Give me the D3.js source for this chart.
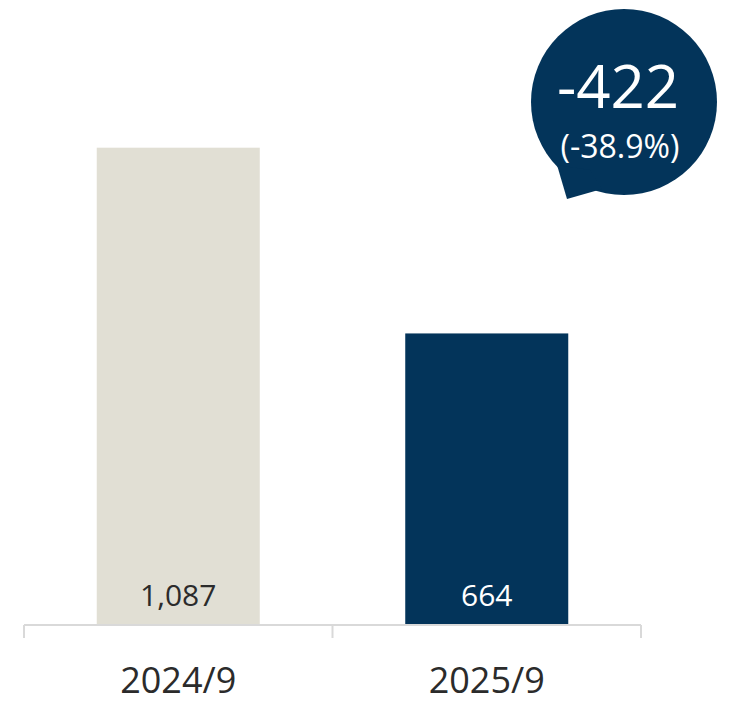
<!DOCTYPE html>
<html>
<head>
<meta charset="utf-8">
<script src="https://cdn.jsdelivr.net/npm/d3@7"></script>
<style>
  html, body { margin: 0; padding: 0; background: #ffffff; }
  svg { display: block; font-family: "Open Sans", "Noto Sans", sans-serif; }
</style>
</head>
<body>
<svg id="chart" width="730" height="721"></svg>
<script>
// Periods and values
const periods = ["2024/9", "2025/9"];
const values = [1087, 664];
const valueLabels = ["1,087", "664"];
// Year-on-year change shown in the callout
const changeAbs = [-422];
const changePct = [-38.9];

const barColors = ["#e1dfd4", "#03345a"];
const labelColors = ["#2b2b2b", "#ffffff"];

// Plain hyphen for negative numbers
const locale = d3.formatLocale({ decimal: ".", thousands: ",", grouping: [3], currency: ["", ""], minus: "-" });

const svg = d3.select("#chart");

const x = d3.scaleBand()
  .domain(periods)
  .range([24, 641])
  .paddingInner(0.4716)
  .paddingOuter(0.2358);

const y = d3.scaleLinear()
  .domain([0, 1400])
  .range([625, 625 - 1400 * (477.3 / 1087)]);

// Bars
svg.append("g").selectAll("rect")
  .data(periods)
  .join("rect")
  .attr("x", d => x(d))
  .attr("width", x.bandwidth())
  .attr("y", (d, i) => y(values[i]))
  .attr("height", (d, i) => y(0) - y(values[i]))
  .attr("fill", (d, i) => barColors[i]);

// Value labels at the foot of each bar
svg.append("g").selectAll("text")
  .data(periods)
  .join("text")
  .attr("x", d => x(d) + x.bandwidth() / 2)
  .attr("y", y(0) - 19)
  .attr("text-anchor", "middle")
  .attr("font-size", 30)
  .attr("fill", (d, i) => labelColors[i])
  .text((d, i) => valueLabels[i]);

// Category axis: baseline with ticks at band boundaries
const axisY = y(0);
const step = x.step();
const [r0, r1] = x.range();
const tickXs = d3.range(periods.length + 1).map(i => r0 + i * step);
const axis = svg.append("g").attr("stroke", "#d9d9d9").attr("stroke-width", 2).attr("fill", "none");
axis.append("line").attr("x1", r0).attr("x2", r1).attr("y1", axisY).attr("y2", axisY);
axis.selectAll("line.tick")
  .data(tickXs)
  .join("line")
  .attr("class", "tick")
  .attr("x1", d => d).attr("x2", d => d)
  .attr("y1", axisY).attr("y2", axisY + 13);

svg.append("g").selectAll("text")
  .data(periods)
  .join("text")
  .attr("x", d => x(d) + x.bandwidth() / 2)
  .attr("y", 693)
  .attr("text-anchor", "middle")
  .attr("font-size", 36)
  .attr("fill", "#2b2b2b")
  .text(d => d);

// Speech-bubble callout with the change
const bubble = svg.append("g");
const cx = 624, cy = 102, r = 93;
bubble.append("circle").attr("cx", cx).attr("cy", cy).attr("r", r).attr("fill", "#03345a");
bubble.append("path")
  .attr("d", d3.line()([[557, 165], [567, 199], [602, 189], [590, 170]]))
  .attr("fill", "#03345a");

bubble.append("text")
  .attr("x", 618).attr("y", 108)
  .attr("text-anchor", "middle")
  .attr("font-size", 60)
  .attr("fill", "#ffffff")
  .text(locale.format("d")(changeAbs[0]));

bubble.append("text")
  .attr("x", 620).attr("y", 158)
  .attr("text-anchor", "middle")
  .attr("font-size", 32)
  .attr("fill", "#ffffff")
  .text("(" + locale.format(".1f")(changePct[0]) + "%)");
</script>
</body>
</html>
